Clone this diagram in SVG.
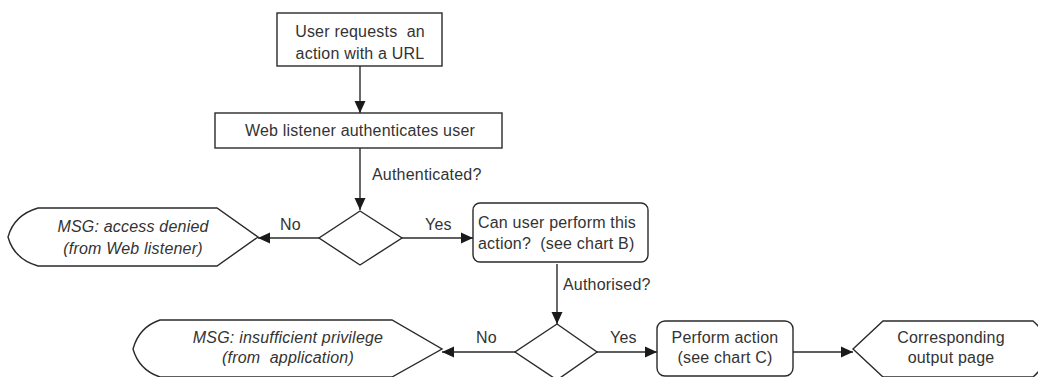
<svg xmlns="http://www.w3.org/2000/svg" width="1038" height="377" viewBox="0 0 1038 377">
<style>
.s{fill:#fff;stroke:#2a2a2a;stroke-width:1.4}
.t{font-family:"Liberation Sans",Arial,sans-serif;font-size:16px;fill:#333;letter-spacing:0.2px;white-space:pre}
.i{font-style:italic}
.c{stroke:#2a2a2a;stroke-width:1.4;fill:none}
</style>
<defs>
<marker id="ah" markerUnits="userSpaceOnUse" markerWidth="12" markerHeight="12" viewBox="0 0 12 12" refX="12" refY="6" orient="auto">
<path d="M0,0.5 L12,6 L0,11.5 Z" fill="#1a1a1a"/>
</marker>
</defs>
<rect width="1038" height="377" fill="#fff"/>
<g id="connectors">
<line class="c" x1="360" y1="66" x2="360" y2="113" marker-end="url(#ah)"/>
<line class="c" x1="360" y1="148" x2="360" y2="210" marker-end="url(#ah)"/>
<line class="c" x1="319" y1="238" x2="258" y2="238" marker-end="url(#ah)"/>
<line class="c" x1="402" y1="238" x2="473" y2="238" marker-end="url(#ah)"/>
<line class="c" x1="557" y1="264" x2="557" y2="324" marker-end="url(#ah)"/>
<line class="c" x1="515" y1="352" x2="442" y2="352" marker-end="url(#ah)"/>
<line class="c" x1="597" y1="352" x2="657" y2="352" marker-end="url(#ah)"/>
<line class="c" x1="793" y1="352" x2="853" y2="352" marker-end="url(#ah)"/>
<text class="t" x="372" y="180">Authenticated?</text>
<text class="t" x="280" y="230">No</text>
<text class="t" x="425" y="230">Yes</text>
<text class="t" x="563" y="290">Authorised?</text>
<text class="t" x="476" y="343">No</text>
<text class="t" x="610" y="343">Yes</text>
</g>
<g id="start">
<rect class="s" x="277" y="13" width="165" height="53"/>
<text class="t" text-anchor="middle" x="360" y="37">User requests  an</text>
<text class="t" text-anchor="middle" x="360" y="59">action with a URL</text>
</g>
<g id="auth">
<rect class="s" x="215" y="113" width="287" height="35"/>
<text class="t" text-anchor="middle" x="360" y="136">Web listener authenticates user</text>
</g>
<g id="decision1">
<path class="s" d="M360,211 L402,238 L360,265 L319,238 Z"/>
</g>
<g id="denied">
<path class="s" d="M38,208 L217,208 L258,237 L217,266 L38,266 Q14,259 8,237 Q14,215 38,208 Z"/>
<text class="t i" text-anchor="middle" x="133" y="232">MSG: access denied</text>
<text class="t i" text-anchor="middle" x="133" y="254">(from Web listener)</text>
</g>
<g id="authorise">
<rect class="s" x="473" y="203" width="175" height="59" rx="7"/>
<text class="t" x="478" y="228">Can user perform this</text>
<text class="t" x="478" y="249">action?  (see chart B)</text>
</g>
<g id="decision2">
<path class="s" d="M557,324 L597,352 L557,380 L515,352 Z"/>
</g>
<g id="insufficient">
<path class="s" d="M160,320 L392,320 L442,349 L392,377 L160,377 Q139,370 133,349 Q139,327 160,320 Z"/>
<text class="t i" text-anchor="middle" x="288" y="343">MSG: insufficient privilege</text>
<text class="t i" text-anchor="middle" x="288" y="363">(from  application)</text>
</g>
<g id="perform">
<rect class="s" x="657" y="321" width="136" height="55" rx="8"/>
<text class="t" text-anchor="middle" x="725" y="343">Perform action</text>
<text class="t" text-anchor="middle" x="725" y="363">(see chart C)</text>
</g>
<g id="output">
<path class="s" d="M883,321 L1033,321 Q1048,334 1048,349 Q1048,364 1033,377 L883,377 L853,349 Z"/>
<text class="t" text-anchor="middle" x="951" y="343">Corresponding</text>
<text class="t" text-anchor="middle" x="951" y="363">output page</text>
</g>
</svg>
